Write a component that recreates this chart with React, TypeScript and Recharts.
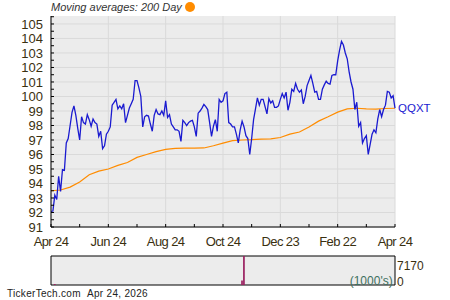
import React from 'react';
import {
  LineChart, Line, BarChart, Bar, XAxis, YAxis, CartesianGrid, ReferenceArea, LabelList,
} from 'recharts';

// daily-ish closes, one value per session step (181 steps, Apr 24 -> Apr 24)
const closes = [
  92.07, 92.1, 93.2, 92.9, 94.5, 93.45, 94.95, 94.9, 96.8, 97.1,
  98.0, 98.9, 99.35, 98.7, 97.8, 97.0, 98.6, 98.2, 98.1, 98.75,
  98.4, 97.95, 98.45, 98.2, 98.1, 97.25, 97.6, 96.4, 96.6, 97.4,
  97.6, 97.9, 99.4, 99.6, 99.8, 99.15, 99.35, 99.15, 99.5, 98.2,
  98.7, 99.2, 99.5, 99.8, 101.1, 101.1, 100.6, 100.0, 97.9, 98.6,
  98.7, 98.65, 98.1, 97.6, 98.7, 99.1, 98.8, 98.75, 99.0, 98.7,
  99.7, 98.55, 98.75, 98.1, 97.9, 97.7, 97.7, 97.6, 96.9, 98.35,
  98.2, 98.0, 98.2, 98.3, 98.35, 97.9, 97.25, 98.85, 99.0, 99.2,
  99.45, 99.3, 99.1, 98.2, 97.25, 97.95, 98.4, 97.6, 99.8, 99.6,
  99.7, 100.2, 100.3, 98.2, 98.1, 97.9, 97.9, 97.4, 96.8, 97.7,
  98.3, 97.9, 97.3, 97.1, 96.0, 97.1, 98.4, 99.15, 99.9, 99.4,
  99.8, 99.8, 99.3, 98.8, 99.85, 99.55, 99.7, 99.25, 99.25, 99.35,
  99.8, 100.2, 99.9, 100.3, 99.05, 99.6, 100.5, 100.35, 100.9, 100.5,
  100.3, 100.45, 99.5, 100.0, 100.75, 101.1, 101.45, 100.9, 100.3, 100.35,
  99.8, 99.8, 100.5, 100.8, 101.05, 100.9, 100.85, 101.45, 101.5, 101.5,
  102.45, 103.2, 103.8, 103.55, 103.0, 102.6, 101.7, 101.0, 100.5, 99.1,
  99.6, 97.95, 98.2, 96.8, 97.1, 97.3, 96.0, 96.7, 97.4, 97.7,
  97.5, 98.45, 99.1, 98.6, 99.1, 99.4, 100.35, 100.3, 99.9, 100.05,
  99.2,
];

// 200 day moving average, read every 5 steps
const avg200 = [
  93.5, 93.55, 93.75, 94.1, 94.6, 94.85, 95.0, 95.25, 95.45, 95.8,
  96.0, 96.2, 96.35, 96.42, 96.44, 96.44, 96.45, 96.6, 96.78, 96.95,
  97.0, 97.02, 97.06, 97.08, 97.17, 97.4, 97.55, 97.9, 98.3, 98.6,
  98.92, 99.15, 99.19, 99.15, 99.13, 99.17, 99.19,
];
const avgStep = 5;

const monthLabels = ['Apr 24', 'Jun 24', 'Aug 24', 'Oct 24', 'Dec 23', 'Feb 22', 'Apr 24'];
const monthStep = 30;

// volume in 1000's, only a few sessions traded
const volSessions = [2, 100, 101];
const volThousands = [250, 1100, 7170];
const volMax = 7170;

const symbol = 'QQXT';

const lastIdx = closes.length - 1;
const priceData = closes.map((close, i) => ({ i, close }));
const avgData = avg200.map((ma, k) => ({ i: k * avgStep, ma }));
const volData = volSessions.map((i, k) => ({ i, vol: volThousands[k] }));

const xTicks = Array.from({ length: 13 }, (_, k) => k * 15);
const xGrid = Array.from({ length: 7 }, (_, k) => k * monthStep);
const yTicks = Array.from({ length: 30 }, (_, k) => 91 + k * 0.5);
const yGrid = Array.from({ length: 15 }, (_, k) => 91 + k);

const txt = '#3a3010';
const font = '"Liberation Sans", Arial, sans-serif';

const SymbolTag = (props: any) => {
  const { x, y, index } = props;
  if (index !== lastIdx) return null;
  return (
    <text x={x + 3} y={y} dy="0.36em" fill="#1a1ad0" fontSize={11.5}>
      {symbol}
    </text>
  );
};

const VolTick = (props: any) => {
  const { x, y, payload } = props;
  const shift = payload.value === 0 ? -3 : 7;
  return (
    <text x={x} y={y + shift} dy="0.36em" fill={txt} fontSize={12} textAnchor="start">
      {payload.value}
    </text>
  );
};

export default function App() {
  return (
    <div style={{ position: 'absolute', left: 0, top: 0, width: 450, height: 300, background: '#fff', fontFamily: font }}>
      <div style={{ position: 'absolute', left: 51, top: 2.4, fontSize: 11, lineHeight: '11px', fontStyle: 'italic', color: '#333', whiteSpace: 'nowrap' }}>
        Moving averages: 200 Day
      </div>
      <div style={{ position: 'absolute', left: 185, top: 2, width: 10, height: 10, borderRadius: 5, background: '#ff8c00' }} />

      <div style={{ position: 'absolute', left: 0, top: 0 }}>
        <LineChart width={450} height={300} data={priceData} margin={{ top: 16, right: 55, bottom: 53, left: 0 }}>
          <CartesianGrid fill="#ececec" stroke="#dadada" horizontalValues={yGrid} verticalValues={xGrid} />
          <XAxis
            type="number"
            dataKey="i"
            domain={[0, lastIdx]}
            ticks={xTicks}
            interval={0}
            height={20}
            tickSize={-3}
            tickMargin={13}
            stroke="#000"
            tick={{ fill: txt, fontSize: 13, letterSpacing: -0.6 }}
            tickFormatter={(v: number) => (v % monthStep === 0 ? monthLabels[v / monthStep] : '')}
          />
          <YAxis
            type="number"
            domain={[91, 105.55]}
            ticks={yTicks}
            interval={0}
            width={51}
            tickSize={-3}
            tickMargin={11}
            stroke="#000"
            tick={{ fill: txt, fontSize: 13 }}
            tickFormatter={(v: number) => (Number.isInteger(v) ? String(v) : '')}
          />
          <Line data={avgData} dataKey="ma" stroke="#ff8c00" strokeWidth={1.2} dot={false} isAnimationActive={false} />
          <Line dataKey="close" stroke="#1a1ad0" strokeWidth={1.3} dot={false} isAnimationActive={false}>
            <LabelList dataKey="close" content={SymbolTag} />
          </Line>
        </LineChart>
      </div>

      <div style={{ position: 'absolute', left: 0, top: 250 }}>
        <BarChart width={450} height={50} data={volData} margin={{ top: 6, right: 0, bottom: 15, left: 51 }}>
          <CartesianGrid fill="#ececec" horizontal={false} vertical={false} />
          <XAxis type="number" dataKey="i" domain={[0, lastIdx]} hide />
          <YAxis
            orientation="right"
            domain={[0, volMax]}
            ticks={[0, volMax]}
            width={55}
            axisLine={false}
            tickLine={false}
            tickSize={0}
            tickMargin={2}
            tick={VolTick}
          />
          <Bar dataKey="vol" fill="#9b2261" barSize={2} isAnimationActive={false} />
          <ReferenceArea x1={0} x2={lastIdx} y1={0} y2={volMax} fill="none" stroke="#000" strokeWidth={1} ifOverflow="visible" />
        </BarChart>
      </div>

      <div style={{ position: 'absolute', left: 349.7, top: 275, fontSize: 12, lineHeight: '12px', color: '#3f7060', whiteSpace: 'nowrap' }}>
        (1000's)
      </div>
      <div style={{ position: 'absolute', left: 7, top: 288.8, fontSize: 10, lineHeight: '10px', letterSpacing: 0.3, color: '#222', whiteSpace: 'nowrap' }}>
        TickerTech.com&nbsp;&nbsp;Apr 24, 2026
      </div>
    </div>
  );
}
